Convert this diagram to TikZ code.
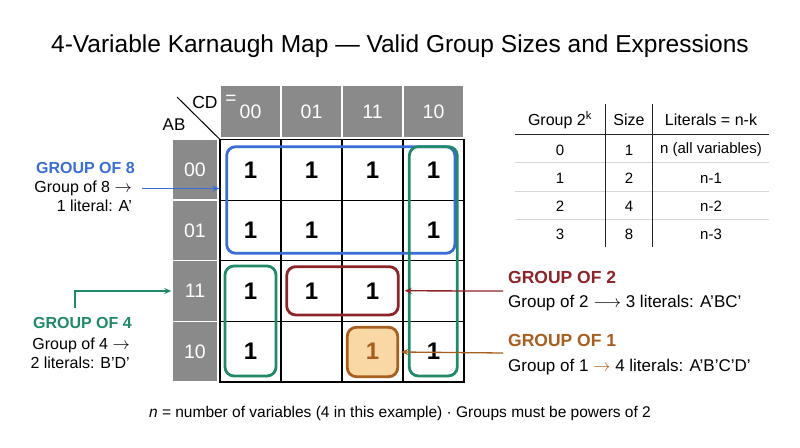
\documentclass[tikz,border=0pt]{standalone}
\usepackage{fontspec}
\setmainfont{Liberation Sans}
\usetikzlibrary{arrows.meta}

\definecolor{kgray}{RGB}{138,138,138}
\definecolor{kblue}{RGB}{58,108,214}
\definecolor{kgreen}{RGB}{32,138,104}
\definecolor{kred}{RGB}{140,36,40}
\definecolor{kbrown}{RGB}{168,94,30}
\definecolor{korange}{RGB}{250,216,165}
\definecolor{krule}{RGB}{215,215,215}

\begin{document}
\begin{tikzpicture}[x=1pt,y=-1pt,
  cell/.style={draw=black,line width=1.2pt,minimum width=61pt,minimum height=60.6pt,inner sep=0pt},
  hdr/.style={fill=kgray,draw=white,line width=1.5pt,text=white,inner sep=0pt,font=\fontsize{19.5}{19.5}\selectfont},
  grp/.style={draw,rounded corners=9pt,line width=2.8pt,inner sep=0pt},
  one/.style={inner sep=0pt,font=\fontsize{24}{24}\selectfont\bfseries},
  lbl/.style={inner sep=0pt,font=\fontsize{16}{16}\selectfont},
  ttl/.style={inner sep=0pt,font=\fontsize{16}{16}\selectfont\bfseries},
  tab/.style={inner sep=0pt,font=\fontsize{15}{15}\selectfont},
  arr/.style={-{Stealth[length=7pt,width=6pt]},line width=1.3pt}]

  \useasboundingbox (0,0) rectangle (800,447);

  \node[inner sep=0pt,font=\fontsize{24.5}{24.5}\selectfont] (title) at (400,46)
    {4-Variable Karnaugh Map — Valid Group Sizes and Expressions};

  \foreach \cl [count=\j from 0] in {00,01,11,10}
    \node[hdr,minimum width=61pt,minimum height=53.3pt] (hc\cl) at (250.5+61*\j,111.4) {\cl};
  \foreach \rl [count=\i from 0] in {00,01,11,10}{
    \node[hdr,minimum width=46pt,minimum height=60.6pt] (hr\rl) at (195,169.8+60.6*\i) {\rl};
    \foreach \cl [count=\j from 0] in {00,01,11,10}
      \node[cell] (c\rl\cl) at (250.5+61*\j,169.8+60.6*\i) {};
  }

  \coordinate (corner) at (177,97);
  \draw[line width=1pt] (corner) -- (c0000.north west);
  \node[inner sep=0pt,font=\fontsize{17.5}{17.5}\selectfont] (cd) at (205,102) {CD};
  \node[inner sep=0pt,text=white,font=\fontsize{19}{19}\selectfont] (eq) at (231,100) {=};
  \node[inner sep=0pt,font=\fontsize{17}{17}\selectfont] (ab) at (174,125) {AB};

  \node[grp,kblue,minimum width=228.3pt,minimum height=106.6pt] (g8) at (340.8,200) {};
  \node[grp,kgreen,minimum width=48pt,minimum height=229.3pt] (g4r) at (433.3,261.3) {};
  \node[grp,kgreen,minimum width=51pt,minimum height=110pt] (g4l) at (250.5,321) {};
  \node[grp,kred,minimum width=111.6pt,minimum height=48.3pt] (g2) at (342.5,290.8) {};
  \node[grp,kbrown,fill=korange,minimum width=50.4pt,minimum height=49.4pt] (g1) at (372.5,352) {};

  \foreach \n in {0000,0001,0011,0010,0100,0101,0110,1100,1101,1111,1000,1010}
    \node[one] (v\n) at (c\n) {1};
  \node[one,text=kbrown] (v1011) at (c1011) {1};

  \node[ttl,text=kblue,anchor=east] (t8) at (135,167.5) {GROUP OF 8};
  \node[lbl,anchor=east] (t8a) at (132,188.5) {Group of 8 $\rightarrow$};
  \node[lbl,anchor=east] (t8b) at (132,205.5) {1 literal: A’};
  \draw[arr,kblue] ([xshift=10pt]t8a.east) -- (t8a.east -| c0000.west);

  \node[ttl,text=kgreen,anchor=east] (t4) at (132,323) {GROUP OF 4};
  \node[lbl,anchor=east] (t4a) at (130,345) {Group of 4 $\rightarrow$};
  \node[lbl,anchor=east] (t4b) at (130,362.5) {2 literals: B’D’};
  \coordinate (t4foot) at (75,308);
  \draw[arr,kgreen] (t4foot) |- (hr11.west);

  \node[ttl,text=kred,anchor=west,font=\fontsize{17.5}{17.5}\selectfont\bfseries] (t2) at (508,277) {GROUP OF 2};
  \node[lbl,anchor=west,font=\fontsize{17}{17}\selectfont] (t2a) at (508,303) {Group of 2 $\longrightarrow$ 3 literals: A’BC’};
  \coordinate (t2tail) at (503,291);
  \draw[arr,kred] (t2tail) -- ([xshift=5pt]g2.east);

  \node[ttl,text=kbrown,anchor=west,font=\fontsize{17.5}{17.5}\selectfont\bfseries] (t1) at (508,340) {GROUP OF 1};
  \node[lbl,anchor=west,font=\fontsize{17}{17}\selectfont] (t1a) at (508,367) {Group of 1 {\color{kbrown}$\rightarrow$} 4 literals: A’B’C’D’};
  \coordinate (t1tail) at (503,353);
  \draw[arr,kbrown] (t1tail) -- ([xshift=2pt]g1.east);

  \node[tab,font=\fontsize{16}{16}\selectfont] (hk) at (560,120) {Group 2\textsuperscript{k}};
  \node[tab,font=\fontsize{16}{16}\selectfont] (hs) at (629,120) {Size};
  \node[tab,font=\fontsize{16}{16}\selectfont] (hl) at (711,120) {Literals = n-k};
  \draw[line width=1.6pt,black!85] (515,134.3) -- (769,134.3);
  \foreach \y in {162.7,191,219.3}
    \draw[line width=0.8pt,krule] (515,\y) -- (769,\y);
  \foreach \x in {605.7,652.7}
    \draw[line width=1.2pt,black!85] (\x,104) -- (\x,247);
  \foreach \k/\s/\l [count=\i from 0] in {0/1/n (all variables),1/2/n-1,2/4/n-2,3/8/n-3}{
    \node[tab] (k\k) at (560,150+28*\i) {\k};
    \node[tab] (s\k) at (629,150+28*\i) {\s};
    \node[tab] (l\k) at (711,150+28*\i) {\l};
  }

  \node[inner sep=0pt,font=\fontsize{15.5}{15.5}\selectfont] (foot) at (400,413)
    {\textit{n} = number of variables (4 in this example) · Groups must be powers of 2};
\end{tikzpicture}
\end{document}
